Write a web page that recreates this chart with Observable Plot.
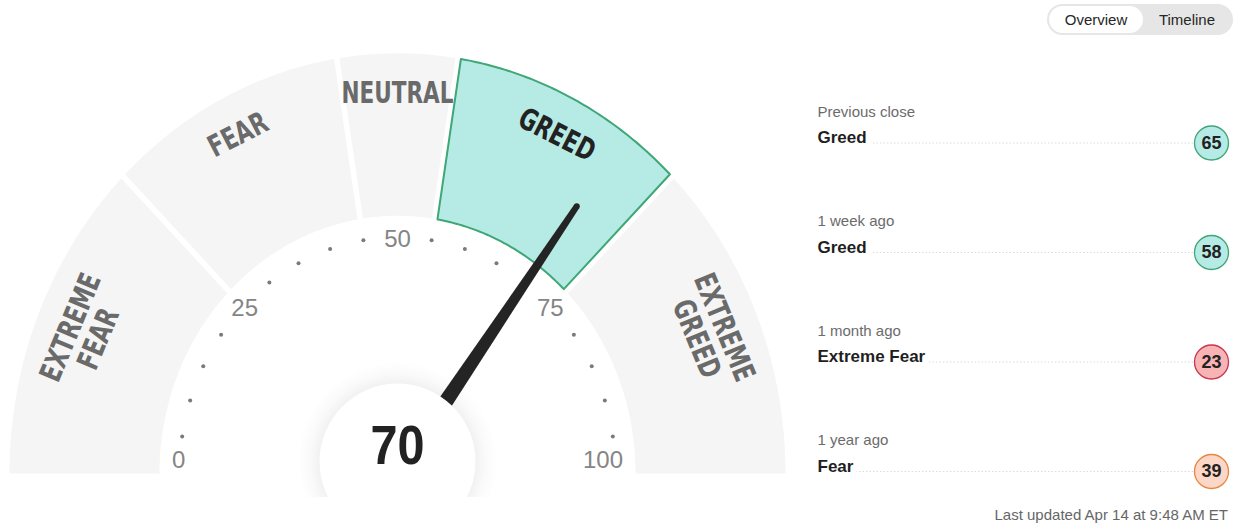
<!DOCTYPE html>
<html>
<head>
<meta charset="utf-8">
<script src="https://cdn.jsdelivr.net/npm/d3@7"></script>
<script src="https://cdn.jsdelivr.net/npm/@observablehq/plot@0.6"></script>
<style>
html, body { margin: 0; padding: 0; background: #fff; }
body { width: 1239px; height: 527px; position: relative; overflow: hidden;
       font-family: "Liberation Sans", Arial, Helvetica, sans-serif; }
#gauge { position: absolute; left: 0; top: 0; }
#history { position: absolute; left: 800px; top: 90px; }
#toggle { position: absolute; left: 1047px; top: 4px; width: 186px; height: 31px;
          border-radius: 16px; background: #e6e6e6; }
#toggle .on { position: absolute; left: 2px; top: 2px; width: 94px; height: 27px;
              border-radius: 14px; background: #fff; }
#toggle span { position: absolute; top: 0; line-height: 31px; font-size: 15px; color: #262626; text-align: center; }
#updated { position: absolute; right: 11px; top: 506px; font-size: 15px; line-height: 18px; color: #666; }
</style>
</head>
<body>
<div id="toggle"><div class="on"></div><span style="left:2px;width:94px">Overview</span><span style="left:96px;width:88px">Timeline</span></div>
<div id="gauge"></div>
<div id="history"></div>
<div id="updated">Last updated Apr 14 at 9:48 AM ET</div>
<script>
// ---------- DATA ----------
const segmentNames = ["EXTREME\nFEAR", "FEAR", "NEUTRAL", "GREED", "EXTREME\nGREED"];
const segmentBounds = [0, 25, 45, 55, 75, 100];
const currentValue = 70;
const currentRating = "GREED";
const tickLabels = [0, 25, 50, 75, 100];
const minorTicks = [5, 10, 15, 20, 30, 35, 40, 45, 55, 60, 65, 70, 80, 85, 90, 95];

const historyPeriods = ["Previous close", "1 week ago", "1 month ago", "1 year ago"];
const historyRatings = ["Greed", "Greed", "Extreme Fear", "Fear"];
const historyValues = [65, 58, 23, 39];

// ---------- STYLE ----------
const ratingFill = {"Extreme Fear": "#f8b3b5", "Fear": "#fcd6c6", "Neutral": "#e6e6e6", "Greed": "#b6ebe5", "Extreme Greed": "#b6ebe5"};
const ratingStroke = {"Extreme Fear": "#c8374f", "Fear": "#e5883c", "Neutral": "#999", "Greed": "#3fa676", "Extreme Greed": "#3fa676"};
const PXX = 386, PXY = 418;            // pixels per unit radius (x, y)
const ang = v => Math.PI * (1 - v / 100);
const polar = (v, r) => [r * Math.cos(ang(v)), r * Math.sin(ang(v))];

// ---------- GAUGE SEGMENTS ----------
const rOut = 388 / PXX, rIn = 238 / PXX, halfGap = 2.75 / PXX;
const segs = segmentNames.map((name, i) => ({name, i, v0: segmentBounds[i], v1: segmentBounds[i + 1],
  mid: (segmentBounds[i] + segmentBounds[i + 1]) / 2, active: name.replace("\n", " ") === currentRating}));
function segPoly(s) {
  const last = segs.length - 1;
  const a0 = ang(s.v0), a1 = ang(s.v1);
  const o0 = s.i === 0 ? 0 : Math.asin(halfGap / rOut), o1 = s.i === last ? 0 : Math.asin(halfGap / rOut);
  const i0 = s.i === 0 ? 0 : Math.asin(halfGap / rIn), i1 = s.i === last ? 0 : Math.asin(halfGap / rIn);
  const pts = [], n = 64;
  for (let k = 0; k <= n; k++) { const a = (a0 - o0) + ((a1 + o1) - (a0 - o0)) * k / n; pts.push({seg: s.i, x: rOut * Math.cos(a), y: rOut * Math.sin(a)}); }
  for (let k = 0; k <= n; k++) { const a = (a1 + i1) + ((a0 - i0) - (a1 + i1)) * k / n; pts.push({seg: s.i, x: rIn * Math.cos(a), y: rIn * Math.sin(a)}); }
  return pts;
}
const grayPolys = segs.filter(s => !s.active).flatMap(segPoly);
const activePolys = segs.filter(s => s.active).flatMap(segPoly);

// ---------- NEEDLE ----------
const needleLen = 305 / PXX;
const [tx, ty] = polar(currentValue, needleLen);
const ux0 = tx * PXX, uy0 = ty * PXY, ul = Math.hypot(ux0, uy0);
const ux = ux0 / ul, uy = uy0 / ul;   // pixel direction (y up)
const px = -uy, py = ux;              // perpendicular
const wBase = 9, wTip = 3;
const needle = [
  {x: px * wBase / PXX, y: py * wBase / PXY},
  {x: tx + px * wTip / PXX, y: ty + py * wTip / PXY},
  {x: tx - px * wTip / PXX, y: ty - py * wTip / PXY},
  {x: -px * wBase / PXX, y: -py * wBase / PXY}
];

const labelR = v => (v === 12.5 || v === 87.5) ? 0.877 : 0.909;
const tickPos = v => polar(Math.min(Math.max(v, 1.67), 98.33), v === 0 || v === 100 ? 0.585 : 0.56);

const gauge = Plot.plot({
  width: 800, height: 497, margin: 0,
  x: {domain: [-1, 1], range: [11, 783], axis: null},
  y: {domain: [0, 1], range: [473, 55], axis: null},
  color: {type: "identity"},
  marks: [
    Plot.line(grayPolys, {x: "x", y: "y", z: "seg", fill: "#f5f5f5", stroke: "none", curve: "linear-closed"}),
    Plot.line(activePolys, {x: "x", y: "y", z: "seg", fill: ratingFill["Greed"], stroke: ratingStroke["Greed"], strokeWidth: 2, curve: "linear-closed"}),
    Plot.text(segs, {
      x: d => polar(d.mid, labelR(d.mid))[0], y: d => polar(d.mid, labelR(d.mid))[1],
      text: "name", rotate: d => d.mid * 1.8 - 90,
      fill: d => d.active ? "#222222" : "#6a6a6a",
      fontFamily: "'DejaVu Sans','Liberation Sans',sans-serif",
      fontWeight: "bold", fontSize: 30, lineHeight: 1.0, className: "seglabel"
    }),
    Plot.dot(minorTicks, {x: v => polar(v, 218 / PXX)[0], y: v => polar(v, 218 / PXX)[1], r: 2, fill: "#7a7a7a", stroke: "none"}),
    Plot.text(tickLabels.filter(v => v > 0 && v < 100), {x: v => tickPos(v)[0], y: v => tickPos(v)[1], text: d => String(d), fontSize: 24, fill: "#858585", fontFamily: "'Liberation Sans',Arial,sans-serif"}),
    Plot.text(tickLabels.filter(v => v === 0), {x: v => tickPos(v)[0], y: v => tickPos(v)[1], text: d => String(d), textAnchor: "start", fontSize: 24, fill: "#858585", fontFamily: "'Liberation Sans',Arial,sans-serif"}),
    Plot.text(tickLabels.filter(v => v === 100), {x: v => tickPos(v)[0], y: v => tickPos(v)[1], text: d => String(d), textAnchor: "end", fontSize: 24, fill: "#858585", fontFamily: "'Liberation Sans',Arial,sans-serif"}),
    Plot.dot([currentValue], {x: 0, y: 0, r: 100, dy: -12, fill: "url(#halo)", stroke: "none"}),
    Plot.line(needle, {x: "x", y: "y", fill: "#242424", stroke: "none", curve: "linear-closed"}),
    Plot.dot([currentValue], {x: tx, y: ty, r: wTip, fill: "#242424", stroke: "none"}),
    Plot.dot([currentValue], {x: 0, y: 0, r: 78, dy: -12, fill: "white", stroke: "none"}),
    Plot.text([currentValue], {x: 0, y: 0, dy: -27, text: d => String(d), fontSize: 54, fontWeight: "bold", fill: "#222", fontFamily: "'Liberation Sans',Arial,sans-serif", className: "bignum"})
  ]
});
d3.select(gauge).insert("defs", ":first-child").html(
  '<radialGradient id="halo"><stop offset="0%" stop-color="#000" stop-opacity="0.07"/>' +
  '<stop offset="76%" stop-color="#000" stop-opacity="0.06"/>' +
  '<stop offset="88%" stop-color="#000" stop-opacity="0.02"/>' +
  '<stop offset="100%" stop-color="#000" stop-opacity="0"/></radialGradient>');
// condense the segment labels horizontally (no condensed font installed)
d3.select(gauge).selectAll(".seglabel text").attr("transform", function () {
  return (this.getAttribute("transform") || "") + " scale(0.72,1)";
});
d3.select(gauge).selectAll(".bignum text").attr("transform", function () {
  return (this.getAttribute("transform") || "") + " scale(0.9,1.04)";
});
document.getElementById("gauge").appendChild(gauge);

// ---------- HISTORY LIST ----------
const rows = historyPeriods.map((period, i) => ({i, period, rating: historyRatings[i], value: historyValues[i]}));
const history = Plot.plot({
  width: 439, height: 437, margin: 0,
  x: {domain: [0, 1], range: [17, 411], axis: null},
  y: {domain: [0, 3], range: [52.5, 381], axis: null},
  color: {type: "identity"},
  marks: [
    Plot.ruleY(rows, {y: "i", x1: 0, x2: 1, stroke: "#dcdcdc", strokeWidth: 1, strokeDasharray: "1.5,2"}),
    Plot.text(rows, {x: 0, y: "i", dy: -31, text: "period", textAnchor: "start", fontSize: 15, fill: "#6b6b6b", fontFamily: "'Liberation Sans',Arial,sans-serif"}),
    Plot.text(rows, {x: 0, y: "i", dy: -5, text: "rating", textAnchor: "start", fontSize: 17, fontWeight: "bold", fill: "#1f1f1f", stroke: "white", strokeWidth: 12, fontFamily: "'Liberation Sans',Arial,sans-serif"}),
    Plot.dot(rows, {x: 1, y: "i", r: 17, fill: d => ratingFill[d.rating], stroke: d => ratingStroke[d.rating], strokeWidth: 1.3}),
    Plot.text(rows, {x: 1, y: "i", text: d => String(d.value), fontSize: 18, fontWeight: "bold", fill: "#222", fontFamily: "'Liberation Sans',Arial,sans-serif"})
  ]
});
document.getElementById("history").appendChild(history);
</script>
</body>
</html>
